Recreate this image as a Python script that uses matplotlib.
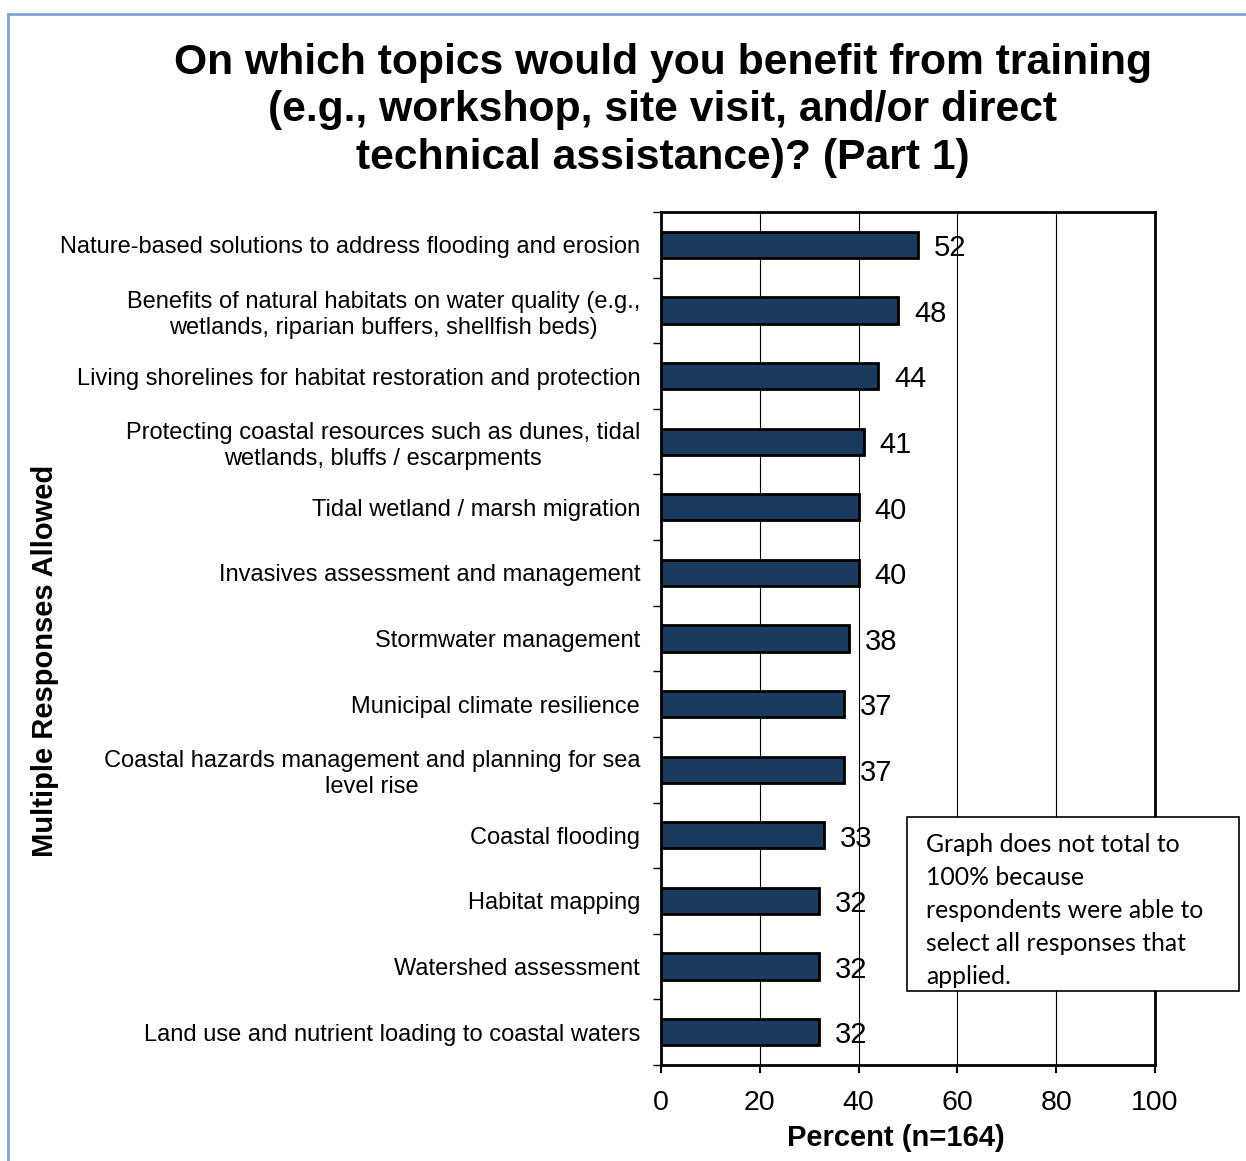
import matplotlib.pyplot as plt
from matplotlib.patches import Rectangle

plt.rcParams['font.family'] = ['Liberation Sans', 'DejaVu Sans']

# data, top to bottom as in the chart
topics = [
    "Nature-based solutions to address flooding and erosion",
    "Benefits of natural habitats on water quality (e.g.,\nwetlands, riparian buffers, shellfish beds)",
    "Living shorelines for habitat restoration and protection",
    "Protecting coastal resources such as dunes, tidal\nwetlands, bluffs / escarpments",
    "Tidal wetland / marsh migration",
    "Invasives assessment and management",
    "Stormwater management",
    "Municipal climate resilience",
    "Coastal hazards management and planning for sea\nlevel rise",
    "Coastal flooding",
    "Habitat mapping",
    "Watershed assessment",
    "Land use and nutrient loading to coastal waters",
]
percents = [52, 48, 44, 41, 40, 40, 38, 37, 37, 33, 32, 32, 32]
x_ticks = [0, 20, 40, 60, 80, 100]

fig = plt.figure(figsize=(12.46, 11.61), dpi=100)
ax = fig.add_axes([0.5305, 0.0827, 0.3965, 0.7347])

n = len(topics)
ypos = list(range(n))
ax.barh(ypos, percents, height=0.4, color='#1b3a5f', edgecolor='black',
        linewidth=2, zorder=3)
for y, v in zip(ypos, percents):
    ax.text(v + 3.2, y + 0.05, str(v), va='center', ha='left', fontsize=21, zorder=4)

ax.set_ylim(n - 0.5, -0.5)
ax.set_xlim(0, 100)
ax.set_yticks(ypos)
ax.set_yticklabels(topics, fontsize=17, ha='right', multialignment='center',
                   linespacing=1.25)
ax.set_yticks([i - 0.5 for i in range(n + 1)], minor=True)
ax.tick_params(axis='y', which='major', length=0, pad=15)
ax.tick_params(axis='y', which='minor', length=6, width=1)
ax.set_xticks(x_ticks)
ax.tick_params(axis='x', labelsize=20.5, length=6, width=1.5, pad=12)
ax.xaxis.grid(True, color='black', linewidth=0.8, zorder=0)

for s in ax.spines.values():
    s.set_linewidth(2)

ax.set_xlabel("Percent (n=164)", fontsize=21, fontweight='bold')
ax.xaxis.set_label_coords(0.476, -0.069)
fig.text(0.036, 0.431, "Multiple Responses Allowed", rotation=90, fontsize=21,
         fontweight='bold', ha='center', va='center')

fig.text(0.532, 0.905,
         "On which topics would you benefit from training\n(e.g., workshop, site visit, and/or direct\ntechnical assistance)? (Part 1)",
         ha='center', va='center', fontsize=30.7, fontweight='bold', linespacing=1.24)

# note box
fig.patches.append(Rectangle((907 / 1246, 1 - 991 / 1161), 332 / 1246, 174 / 1161,
                             transform=fig.transFigure, facecolor='white',
                             edgecolor='black', linewidth=1.2, zorder=5))
fig.text(926 / 1246, 1 - 833 / 1161,
         "Graph does not total to\n100% because\nrespondents were able to\nselect all responses that\napplied.",
         ha='left', va='top', fontsize=17.8, family=['Lato', 'DejaVu Sans'],
         linespacing=1.53, zorder=6)

# page frame
fig.add_artist(plt.Line2D([8 / 1246, 8 / 1246], [0, 1 - 14 / 1161],
                          transform=fig.transFigure, color='#7fa2d6', linewidth=2))
fig.add_artist(plt.Line2D([8 / 1246, 1], [1 - 14 / 1161, 1 - 14 / 1161],
                          transform=fig.transFigure, color='#7fa2d6', linewidth=2))

fig.savefig('out.png', dpi=100)
